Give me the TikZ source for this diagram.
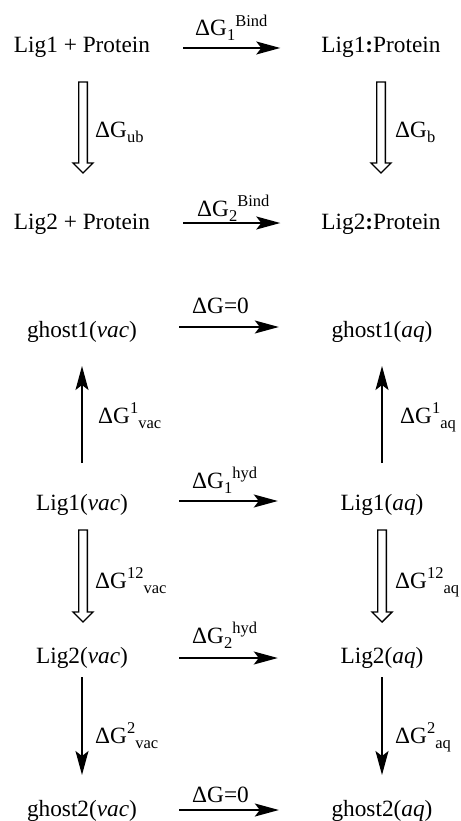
\documentclass[tikz,border=0pt]{standalone}
\usepackage{fontspec}
\setmainfont{Liberation Serif}
\usetikzlibrary{calc,arrows.meta}
\newcommand{\mysup}[1]{\raisebox{9.5pt}{\fontsize{16.5pt}{17pt}\selectfont #1}}
\newcommand{\mysub}[1]{\raisebox{-5pt}{\fontsize{16.5pt}{17pt}\selectfont #1}}
\tikzset{
  state/.style={inner sep=0pt, anchor=base, font=\fontsize{23.3pt}{26pt}\selectfont},
  lbl/.style={inner sep=0pt, anchor=base west, font=\fontsize{23.3pt}{26pt}\selectfont},
  fw/.style={draw, line width=1.4pt, -{Stealth[length=24pt, width=13pt, inset=5pt]}},
  hollow/.style={draw, line width=1.4pt, line join=miter, to path={
    let \p1=(\tikztostart), \p2=(\tikztotarget) in
    (\x1-4.3pt,\y1) -- (\x1-4.3pt,\y2+10pt) -- (\x1-10pt,\y2+10pt) -- (\x1,\y2)
    -- (\x1+10pt,\y2+10pt) -- (\x1+4.3pt,\y2+10pt) -- (\x1+4.3pt,\y1) -- cycle}}
}
\begin{document}
\begin{tikzpicture}[x=1pt,y=-1pt]
\useasboundingbox (0,0) rectangle (460,821);
% states
\node[state] (l1p)  at (82,53)  {Lig1 + Protein};
\node[state] (l1pc) at (381,53) {Lig1\textbf{:}Protein};
\node[state] (l2p)  at (82,229) {Lig2 + Protein};
\node[state] (l2pc) at (381,229) {Lig2\textbf{:}Protein};
\node[state] (g1v) at (82,337)  {ghost1(\textit{vac})};
\node[state] (g1a) at (382,337) {ghost1(\textit{aq})};
\node[state] (l1v) at (82,510)  {Lig1(\textit{vac})};
\node[state] (l1a) at (382,510) {Lig1(\textit{aq})};
\node[state] (l2v) at (82,663)  {Lig2(\textit{vac})};
\node[state] (l2a) at (382,663) {Lig2(\textit{aq})};
\node[state] (g2v) at (82,816)  {ghost2(\textit{vac})};
\node[state] (g2a) at (382,816) {ghost2(\textit{aq})};
% horizontal arrows
\draw[fw, shorten <=33pt, shorten >=41pt] ([yshift=5pt]l1p.base east) -- ([yshift=5pt]l1pc.base west);
\draw[fw, shorten <=33pt, shorten >=41pt] ([yshift=6pt]l2p.base east) -- ([yshift=6pt]l2pc.base west);
\draw[fw, shorten <=42pt, shorten >=52.5pt] ([yshift=10pt]g1v.base east) -- ([yshift=10pt]g1a.base west);
\draw[fw, shorten <=51pt, shorten >=62.6pt] ([yshift=9pt]l1v.base east) -- ([yshift=9pt]l1a.base west);
\draw[fw, shorten <=51pt, shorten >=62.6pt] ([yshift=5pt]l2v.base east) -- ([yshift=5pt]l2a.base west);
\draw[fw, shorten <=42pt, shorten >=52.5pt] ([yshift=6pt]g2v.base east) -- ([yshift=6pt]g2a.base west);
% hollow arrows
\draw[hollow] ([xshift=1pt,yshift=-29pt]l1p.base) to ([xshift=1pt,yshift=56pt]l2p.base);
\draw[hollow] ([yshift=-29pt]l1pc.base) to ([yshift=56pt]l2pc.base);
\draw[hollow] ([xshift=1pt,yshift=-20pt]l1v.base) to ([xshift=1pt,yshift=41pt]l2v.base);
\draw[hollow] ([yshift=-20pt]l1a.base) to ([yshift=41pt]l2a.base);
% thin vertical arrows
\draw[fw] ([yshift=47pt]l1v.base) -- ([yshift=-29pt]g1v.base);
\draw[fw] ([yshift=47pt]l1a.base) -- ([yshift=-29pt]g1a.base);
\draw[fw] ([yshift=-14pt]l2v.base) -- ([yshift=41pt]g2v.base);
\draw[fw] ([yshift=-14pt]l2a.base) -- ([yshift=41pt]g2a.base);
% labels
\node[lbl] (t1) at (195,36)  {ΔG\mysub{1}\mysup{Bind}};
\node[lbl] (t2) at (197,216) {ΔG\mysub{2}\mysup{Bind}};
\node[lbl] (t3) at (192,313) {ΔG=0};
\node[lbl] (t4) at (192,488) {ΔG\mysub{1}\mysup{hyd}};
\node[lbl] (t5) at (192,643) {ΔG\mysub{2}\mysup{hyd}};
\node[lbl] (t6) at (192,802) {ΔG=0};
\node[lbl] (v1) at (95,138)  {ΔG\mysub{ub}};
\node[lbl] (v2) at (395,138) {ΔG\mysub{b}};
\node[lbl] (v3) at (98,423)  {ΔG\mysup{1}\mysub{vac}};
\node[lbl] (v4) at (400,423) {ΔG\mysup{1}\mysub{aq}};
\node[lbl] (v5) at (95,588)  {ΔG\mysup{12}\mysub{vac}};
\node[lbl] (v6) at (395,588) {ΔG\mysup{12}\mysub{aq}};
\node[lbl] (v7) at (95,743)  {ΔG\mysup{2}\mysub{vac}};
\node[lbl] (v8) at (395,743) {ΔG\mysup{2}\mysub{aq}};
\end{tikzpicture}
\end{document}
